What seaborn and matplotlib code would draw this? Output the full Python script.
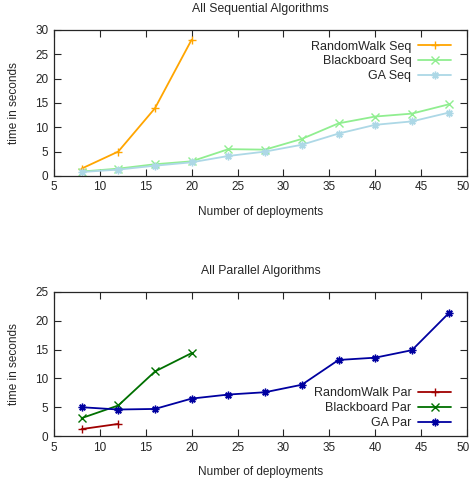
import matplotlib
matplotlib.use("Agg")
import matplotlib.pyplot as plt
import matplotlib.transforms as mtransforms
import pandas as pd
import seaborn as sns

deployments = [8, 12, 16, 20, 24, 28, 32, 36, 40, 44, 48]

# sequential runs (seconds)
randomwalk_seq = [1.5, 5.0, 13.9, 28.0]
blackboard_seq = [0.9, 1.5, 2.4, 3.0, 5.5, 5.4, 7.6, 10.8, 12.2, 12.8, 14.7]
ga_seq = [0.8, 1.3, 2.1, 2.8, 4.1, 5.0, 6.4, 8.7, 10.5, 11.2, 13.0]

# parallel runs (seconds)
randomwalk_par = [1.2, 2.1]
blackboard_par = [3.1, 5.3, 11.2, 14.4]
ga_par = [5.0, 4.6, 4.7, 6.5, 7.2, 7.6, 8.9, 13.2, 13.6, 14.9, 21.3]

x_ticks = [5, 10, 15, 20, 25, 30, 35, 40, 45, 50]

sns.set_style("ticks")
plt.rcParams["font.family"] = ["Liberation Sans", "DejaVu Sans"]
plt.rcParams["font.size"] = 8.5
plt.rcParams["xtick.direction"] = "in"
plt.rcParams["ytick.direction"] = "in"
plt.rcParams["xtick.top"] = True
plt.rcParams["ytick.right"] = True

ASTERISK = (8, 2, 0)


# Turn a dict of series into a long table for seaborn.
def to_long(series: dict) -> pd.DataFrame:
    rows = []
    for name, values in series.items():
        for x, y in zip(deployments, values):
            rows.append({"deployments": x, "time": y, "algorithm": name})
    return pd.DataFrame(rows)


# Draw one panel with gnuplot-like styling.
def draw_panel(ax, series, colors, markers, title, y_max, legend_loc, anchor):
    df = to_long(series)
    names = list(series.keys())
    sns.lineplot(
        data=df, x="deployments", y="time", hue="algorithm", style="algorithm",
        hue_order=names, style_order=names, palette=colors, markers=markers,
        dashes=False, linewidth=1.3, markersize=5.5, ax=ax,
    )
    # seaborn gives markers a white edge; line markers need their own colour
    for line in ax.lines:
        line.set_markeredgecolor(line.get_color())
        line.set_markeredgewidth(1.0)
    handles, labels = ax.get_legend_handles_labels()
    for h in handles:
        h.set_markeredgecolor(h.get_color())
        h.set_markeredgewidth(1.0)
        h.set_markersize(5.5)

    ax.set_xlim(5, 50)
    ax.set_ylim(0, y_max)
    ax.set_xticks(x_ticks)
    ax.set_yticks(range(0, y_max + 1, 5))
    ax.set_title(title, fontsize=8.8, pad=13)
    ax.set_xlabel("Number of deployments", labelpad=9)
    ax.set_ylabel("time in seconds", labelpad=11)
    ax.tick_params(length=5, width=0.8, pad=4)
    for spine in ax.spines.values():
        spine.set_visible(True)
        spine.set_linewidth(0.9)

    # keep the "50" label inside the canvas
    last = ax.get_xticklabels()[-1]
    shift = mtransforms.ScaledTranslation(-0.04, 0, ax.figure.dpi_scale_trans)
    last.set_transform(last.get_transform() + shift)

    ax.legend(
        handles, labels, loc=legend_loc, bbox_to_anchor=anchor, frameon=False,
        markerfirst=False, handlelength=2.6, handletextpad=0.55,
        labelspacing=0.22, fontsize=9, borderpad=0.3,
    )


fig = plt.figure(figsize=(4.72, 4.82), dpi=100)
ax_top = fig.add_axes([0.1144, 0.635, 0.875, 0.303])
ax_bot = fig.add_axes([0.1144, 0.0954, 0.875, 0.2988])

draw_panel(
    ax_top,
    {"RandomWalk Seq": randomwalk_seq, "Blackboard Seq": blackboard_seq, "GA Seq": ga_seq},
    {"RandomWalk Seq": "#ffa500", "Blackboard Seq": "#90ee90", "GA Seq": "#add8e6"},
    {"RandomWalk Seq": "+", "Blackboard Seq": "x", "GA Seq": ASTERISK},
    "All Sequential Algorithms", 30, "upper right", (0.985, 0.995),
)
draw_panel(
    ax_bot,
    {"RandomWalk Par": randomwalk_par, "Blackboard Par": blackboard_par, "GA Par": ga_par},
    {"RandomWalk Par": "#a00000", "Blackboard Par": "#007000", "GA Par": "#0000a0"},
    {"RandomWalk Par": "+", "Blackboard Par": "x", "GA Par": ASTERISK},
    "All Parallel Algorithms", 25, "lower right", (0.985, -0.02),
)

fig.savefig("out.png", dpi=100)
